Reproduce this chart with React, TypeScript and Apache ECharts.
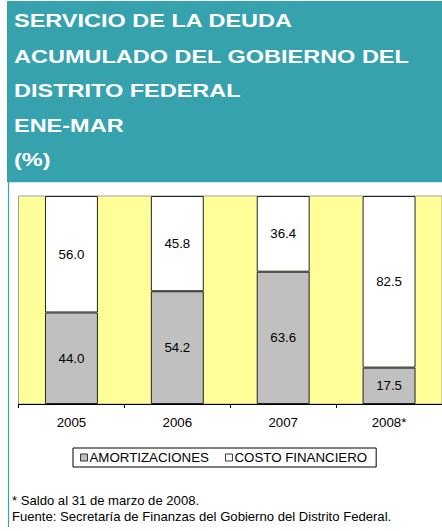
import React, { useEffect, useRef } from "react";
import * as echarts from "echarts";

const titleLines = [
  "SERVICIO DE LA DEUDA",
  "ACUMULADO DEL GOBIERNO DEL",
  "DISTRITO FEDERAL",
  "ENE-MAR",
  "(%)",
];
const categories = ["2005", "2006", "2007", "2008*"];
const amortizaciones = [44.0, 54.2, 63.6, 17.5];
const costoFinanciero = [56.0, 45.8, 36.4, 82.5];
const seriesNames = ["AMORTIZACIONES", "COSTO FINANCIERO"];
const footnotes = [
  "* Saldo al 31 de marzo de 2008.",
  "Fuente: Secretaría de Finanzas del Gobierno del Distrito Federal.",
];

const FONT = "Liberation Sans";
const TEAL = "#36A2AE";

export default function App() {
  const ref = useRef<HTMLDivElement>(null);
  useEffect(() => {
    document.body.style.margin = "0";
    if (!ref.current) return;
    const chart = echarts.init(ref.current, undefined, { renderer: "svg" });
    const titleYs = [20.5, 56.5, 90.5, 126, 160];
    const labelStyle = {
      show: true,
      position: "inside" as const,
      color: "#000",
      fontSize: 13.3,
      fontFamily: FONT,
      formatter: (p: any) => Number(p.value).toFixed(1),
    };
    chart.setOption({
      animation: false,
      backgroundColor: "#fff",
      graphic: [
        { type: "rect", shape: { x: 7, y: 1, width: 436, height: 181 }, style: { fill: TEAL }, z: 0 },
        { type: "line", shape: { x1: 8.5, y1: 181, x2: 8.5, y2: 527 }, style: { stroke: TEAL, lineWidth: 1.2 } },
        { type: "line", shape: { x1: 8, y1: 181.5, x2: 442, y2: 181.5 }, style: { stroke: TEAL, lineWidth: 1.5 } },
        ...titleLines.map((t, i) => ({
          type: "text",
          x: 14,
          y: titleYs[i],
          scaleX: 1.25,
          style: {
            text: t,
            fill: "#fff",
            fontFamily: FONT,
            fontWeight: "bold",
            fontSize: 18.8,
            verticalAlign: "middle",
            align: "left",
          },
        })),
        ...footnotes.map((t, i) => ({
          type: "text",
          x: 12,
          y: [500.3, 516.8][i],
          style: {
            text: t,
            fill: "#000",
            fontFamily: FONT,
            fontSize: 13.1,
            verticalAlign: "middle",
            align: "left",
          },
        })),
      ],
      grid: {
        left: 18.5,
        width: 424,
        top: 196,
        bottom: 127,
        show: true,
        backgroundColor: "#FFFF99",
        borderColor: "#A0A0A0",
        borderWidth: 1,
      },
      legend: {
        data: seriesNames,
        left: 73,
        top: 448,
        orient: "horizontal",
        icon: "rect",
        itemWidth: 7,
        itemHeight: 7,
        itemGap: 16,
        borderColor: "#000",
        borderWidth: 1,
        borderRadius: 0,
        padding: [3, 9, 3, 7],
        textStyle: { color: "#000", fontSize: 13.3, fontFamily: FONT, padding: [0, 0, 0, -3] },
        itemStyle: { borderColor: "#333", borderWidth: 1 },
      },
      xAxis: {
        type: "category",
        data: categories,
        axisLine: { show: true, lineStyle: { color: "#000", width: 1 } },
        axisTick: { show: true, length: 4, lineStyle: { color: "#000" } },
        axisLabel: { color: "#000", fontSize: 13.3, fontFamily: FONT, margin: 12 },
      },
      yAxis: {
        type: "value",
        min: 0,
        max: 100,
        show: false,
        splitLine: { show: false },
      },
      series: [
        {
          name: seriesNames[0],
          type: "bar",
          stack: "total",
          data: amortizaciones,
          barWidth: "50%",
          itemStyle: { color: "#C0C0C0", borderColor: "#222", borderWidth: 1 },
          label: labelStyle,
        },
        {
          name: seriesNames[1],
          type: "bar",
          stack: "total",
          data: costoFinanciero,
          barWidth: "50%",
          itemStyle: { color: "#FFFFFF", borderColor: "#222", borderWidth: 1 },
          label: labelStyle,
        },
      ],
    });
    return () => chart.dispose();
  }, []);
  return <div ref={ref} style={{ width: 442, height: 531 }} />;
}
